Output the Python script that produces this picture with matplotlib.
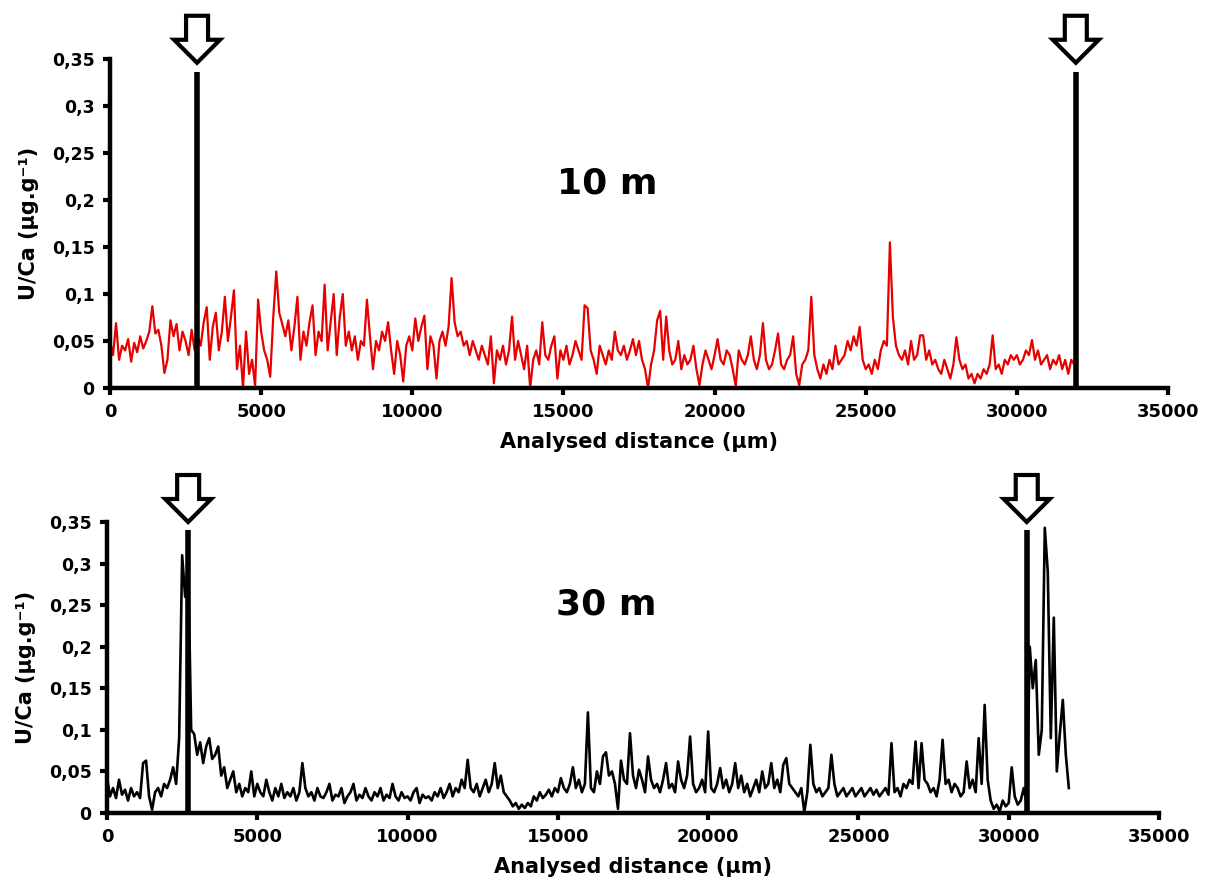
import matplotlib
matplotlib.use("Agg")
import matplotlib.pyplot as plt
import matplotlib.transforms as mtransforms
from matplotlib.patches import Polygon
import numpy as np

# sampling grid of the ablation profiles (µm)
step_um = 100

# U/Ca profile, 10 m specimen
uca_10m = [
    0.050, 0.035, 0.069, 0.030, 0.045, 0.040, 0.052, 0.028, 0.048, 0.038,
    0.055, 0.042, 0.050, 0.060, 0.087, 0.058, 0.062, 0.045, 0.016, 0.030,
    0.072, 0.055, 0.068, 0.040, 0.060, 0.050, 0.035, 0.062, 0.040, 0.055,
    0.045, 0.070, 0.086, 0.030, 0.065, 0.080, 0.040, 0.060, 0.097, 0.050,
    0.075, 0.104, 0.020, 0.045, 0.000, 0.060, 0.015, 0.030, 0.002, 0.094,
    0.060, 0.040, 0.030, 0.012, 0.075, 0.124, 0.080, 0.068, 0.055, 0.072,
    0.040, 0.065, 0.097, 0.030, 0.060, 0.045, 0.070, 0.088, 0.035, 0.060,
    0.050, 0.110, 0.040, 0.070, 0.100, 0.035, 0.075, 0.100, 0.045, 0.060,
    0.040, 0.055, 0.030, 0.050, 0.045, 0.094, 0.055, 0.020, 0.050, 0.040,
    0.060, 0.050, 0.070, 0.040, 0.015, 0.050, 0.035, 0.007, 0.045, 0.055,
    0.040, 0.074, 0.050, 0.065, 0.077, 0.020, 0.055, 0.045, 0.010, 0.050,
    0.060, 0.045, 0.065, 0.117, 0.070, 0.055, 0.060, 0.045, 0.050, 0.035,
    0.050, 0.040, 0.030, 0.045, 0.035, 0.025, 0.055, 0.005, 0.040, 0.030,
    0.045, 0.025, 0.040, 0.076, 0.030, 0.050, 0.035, 0.020, 0.045, 0.000,
    0.030, 0.040, 0.025, 0.070, 0.035, 0.030, 0.045, 0.055, 0.010, 0.040,
    0.030, 0.045, 0.025, 0.035, 0.050, 0.040, 0.030, 0.088, 0.085, 0.040,
    0.030, 0.015, 0.045, 0.035, 0.025, 0.040, 0.030, 0.060, 0.040, 0.035,
    0.045, 0.030, 0.040, 0.052, 0.035, 0.050, 0.030, 0.020, 0.000, 0.025,
    0.040, 0.072, 0.082, 0.030, 0.076, 0.040, 0.025, 0.030, 0.050, 0.020,
    0.035, 0.025, 0.030, 0.045, 0.020, 0.003, 0.025, 0.040, 0.030, 0.020,
    0.035, 0.052, 0.030, 0.025, 0.040, 0.035, 0.020, 0.002, 0.040, 0.030,
    0.025, 0.035, 0.055, 0.030, 0.020, 0.035, 0.069, 0.030, 0.020, 0.025,
    0.040, 0.058, 0.025, 0.020, 0.030, 0.035, 0.055, 0.015, 0.003, 0.025,
    0.030, 0.040, 0.097, 0.035, 0.020, 0.010, 0.025, 0.015, 0.030, 0.020,
    0.045, 0.025, 0.030, 0.035, 0.050, 0.040, 0.055, 0.045, 0.065, 0.030,
    0.020, 0.025, 0.015, 0.030, 0.020, 0.040, 0.050, 0.045, 0.155, 0.075,
    0.045, 0.035, 0.030, 0.040, 0.025, 0.050, 0.030, 0.035, 0.056, 0.056,
    0.030, 0.040, 0.025, 0.030, 0.020, 0.015, 0.030, 0.020, 0.010, 0.025,
    0.054, 0.030, 0.020, 0.025, 0.010, 0.015, 0.005, 0.015, 0.010, 0.020,
    0.015, 0.025, 0.056, 0.020, 0.025, 0.015, 0.030, 0.025, 0.035, 0.030,
    0.035, 0.025, 0.030, 0.040, 0.035, 0.051, 0.030, 0.040, 0.025, 0.030,
    0.035, 0.020, 0.030, 0.025, 0.035, 0.020, 0.030, 0.015, 0.030, 0.025,
]

# U/Ca profile, 30 m specimen
uca_30m = [
    0.043, 0.020, 0.030, 0.018, 0.040, 0.022, 0.028, 0.015, 0.030, 0.020,
    0.025, 0.018, 0.060, 0.063, 0.020, 0.004, 0.025, 0.030, 0.020, 0.035,
    0.030, 0.040, 0.055, 0.035, 0.090, 0.310, 0.260, 0.300, 0.100, 0.095,
    0.070, 0.085, 0.060, 0.080, 0.090, 0.065, 0.070, 0.080, 0.045, 0.055,
    0.030, 0.040, 0.050, 0.025, 0.035, 0.020, 0.030, 0.025, 0.050, 0.020,
    0.035, 0.025, 0.020, 0.040, 0.025, 0.015, 0.030, 0.020, 0.035, 0.018,
    0.025, 0.020, 0.030, 0.015, 0.025, 0.060, 0.030, 0.020, 0.025, 0.015,
    0.030, 0.020, 0.018, 0.025, 0.035, 0.015, 0.022, 0.020, 0.030, 0.012,
    0.020, 0.025, 0.035, 0.015, 0.022, 0.018, 0.030, 0.020, 0.015, 0.025,
    0.020, 0.030, 0.015, 0.022, 0.018, 0.035, 0.020, 0.015, 0.025, 0.018,
    0.020, 0.015, 0.025, 0.030, 0.012, 0.022, 0.018, 0.020, 0.015, 0.025,
    0.020, 0.030, 0.018, 0.025, 0.035, 0.020, 0.030, 0.025, 0.040, 0.030,
    0.064, 0.030, 0.025, 0.035, 0.020, 0.030, 0.040, 0.025, 0.035, 0.060,
    0.030, 0.045, 0.025, 0.020, 0.015, 0.008, 0.012, 0.005, 0.010, 0.006,
    0.012, 0.008, 0.020, 0.015, 0.025, 0.018, 0.022, 0.028, 0.020, 0.030,
    0.025, 0.042, 0.030, 0.025, 0.035, 0.055, 0.030, 0.040, 0.025, 0.035,
    0.121, 0.030, 0.025, 0.050, 0.035, 0.068, 0.073, 0.045, 0.050, 0.035,
    0.005, 0.063, 0.040, 0.035, 0.096, 0.045, 0.030, 0.052, 0.040, 0.025,
    0.068, 0.040, 0.030, 0.035, 0.025, 0.040, 0.060, 0.030, 0.035, 0.025,
    0.062, 0.040, 0.030, 0.045, 0.092, 0.035, 0.025, 0.030, 0.040, 0.025,
    0.098, 0.030, 0.025, 0.035, 0.054, 0.030, 0.040, 0.025, 0.035, 0.060,
    0.030, 0.045, 0.025, 0.035, 0.020, 0.030, 0.040, 0.025, 0.050, 0.030,
    0.035, 0.060, 0.030, 0.040, 0.025, 0.058, 0.066, 0.035, 0.030, 0.025,
    0.020, 0.030, 0.001, 0.025, 0.082, 0.035, 0.025, 0.030, 0.020, 0.025,
    0.030, 0.070, 0.035, 0.020, 0.025, 0.030, 0.020, 0.025, 0.030, 0.020,
    0.025, 0.030, 0.020, 0.025, 0.030, 0.022, 0.028, 0.020, 0.025, 0.030,
    0.022, 0.084, 0.025, 0.030, 0.020, 0.035, 0.030, 0.040, 0.035, 0.086,
    0.030, 0.084, 0.040, 0.035, 0.025, 0.030, 0.020, 0.040, 0.088, 0.035,
    0.040, 0.025, 0.035, 0.030, 0.020, 0.025, 0.062, 0.030, 0.040, 0.025,
    0.090, 0.035, 0.130, 0.040, 0.015, 0.005, 0.010, 0.002, 0.015, 0.008,
    0.012, 0.055, 0.020, 0.010, 0.015, 0.030, 0.010, 0.200, 0.150, 0.184,
    0.070, 0.100, 0.343, 0.290, 0.090, 0.235, 0.050, 0.095, 0.136, 0.070,
    0.030,
]

# marked positions (µm) and height of the marker bars
marks_10m = [2880, 31950]
marks_30m = [2700, 30600]
mark_top_10m = 0.336
mark_top_30m = 0.34

yticks = [0, 0.05, 0.1, 0.15, 0.2, 0.25, 0.3, 0.35]
ytick_labels = ['0', '0,05', '0,1', '0,15', '0,2', '0,25', '0,3', '0,35']
xticks = [0, 5000, 10000, 15000, 20000, 25000, 30000, 35000]

W, H = 1208, 884
fig = plt.figure(figsize=(W / 100, H / 100), dpi=100)
ax1 = fig.add_axes([110 / W, 1 - 388 / H, 1058 / W, 329 / H])
ax2 = fig.add_axes([107 / W, 1 - 813 / H, 1052 / W, 291 / H])


def down_arrow(ax, x, y_tip):
    # hollow block arrow, sized in pixels, tip anchored at (x, y_tip)
    verts = [(0, 0), (-23, 23), (-11, 23), (-11, 47), (11, 47), (11, 23), (23, 23)]
    tr = mtransforms.Affine2D() + mtransforms.ScaledTranslation(x, y_tip, ax.transData)
    p = Polygon(verts, closed=True, facecolor='white', edgecolor='black',
                linewidth=3, transform=tr, clip_on=False, joinstyle='miter')
    ax.add_patch(p)


def style(ax):
    ax.set_xlim(0, 35000)
    ax.set_ylim(0, 0.35)
    for s in ['top', 'right']:
        ax.spines[s].set_visible(False)
    for s in ['left', 'bottom']:
        ax.spines[s].set_linewidth(3.2)
    ax.set_yticks(yticks)
    ax.set_yticklabels(ytick_labels)
    ax.set_xticks(xticks)
    ax.tick_params(direction='out', length=5, width=3, pad=6,
                   labelsize=12.5, colors='black')
    ax.tick_params(axis='x', labelsize=13)
    for lab in ax.get_xticklabels() + ax.get_yticklabels():
        lab.set_fontweight('bold')
    ax.set_xlabel('Analysed distance (µm)', fontsize=15, fontweight='bold', labelpad=8)
    ax.set_ylabel('U/Ca (µg.g⁻¹)', fontsize=15, fontweight='bold', labelpad=9)


d10 = np.arange(len(uca_10m)) * step_um
d30 = np.arange(len(uca_30m)) * step_um

ax1.plot(d10, uca_10m, color='#e80000', lw=1.6, zorder=2)
for m in marks_10m:
    ax1.plot([m, m], [0, mark_top_10m], color='black', lw=4, solid_capstyle='butt', zorder=3)
style(ax1)
ax1.text(0.47, 0.623, '10 m', transform=ax1.transAxes, ha='center', va='center',
         fontsize=26, fontweight='bold')

ax2.plot(d30, uca_30m, color='black', lw=1.9, zorder=2)
for m in marks_30m:
    ax2.plot([m, m], [0, mark_top_30m], color='black', lw=4, solid_capstyle='butt', zorder=3)
style(ax2)
ax2.text(0.475, 0.715, '30 m', transform=ax2.transAxes, ha='center', va='center',
         fontsize=26, fontweight='bold')

for m in marks_10m:
    down_arrow(ax1, m, 0.346)
for m in marks_30m:
    down_arrow(ax2, m, 0.35)

fig.savefig('out.png', dpi=100)
